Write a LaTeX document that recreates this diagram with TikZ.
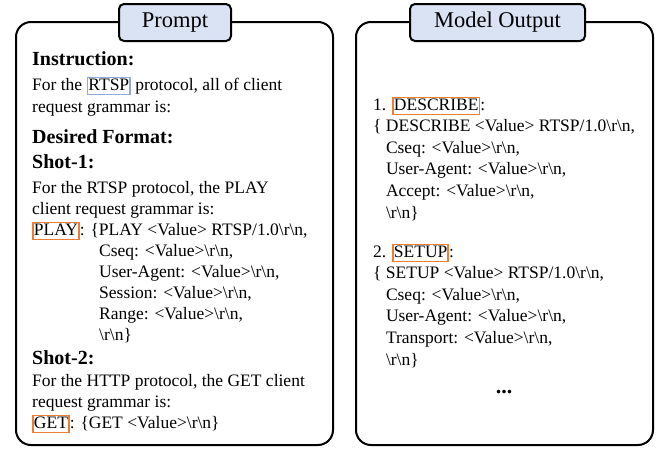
\documentclass[tikz,border=0pt]{standalone}
\usepackage{fontspec}
\setmainfont{Liberation Serif}
\usetikzlibrary{positioning}

\definecolor{titlefill}{HTML}{DAE3F3}
\definecolor{hlorange}{HTML}{ED7D31}
\definecolor{hlblue}{HTML}{8FAADC}

\newcommand{\rn}{\textbackslash r\textbackslash n}
\newcommand{\val}{<Value>}
\newcommand{\ind}{\hspace*{67pt}}
\newcommand{\indr}{\hspace*{12.8pt}}
\newcommand{\hlbox}[2]{\smash{\setlength{\fboxsep}{0pt}\setlength{\fboxrule}{1.8pt}\color{#1}\fbox{\rule[-3.5pt]{0pt}{15pt}\color{black}#2}}}

\begin{document}
\begin{tikzpicture}[x=1pt, y=-1pt,
    panel/.style={draw, line width=2pt, rounded corners=15pt},
    paneltitle/.style={draw, line width=2pt, rounded corners=5pt, fill=titlefill,
        minimum height=37pt, inner sep=0pt, font=\fontsize{22.5}{27}\selectfont},
    head/.style={anchor=base west, inner sep=0pt, font=\fontsize{20}{24}\selectfont\bfseries},
    body/.style={anchor=base west, inner sep=0pt, align=left, font=\fontsize{17.5}{21}\selectfont}]
    \useasboundingbox (0,0) rectangle (665,450);

    % Two panels with their titles
    \node[panel, minimum width=317pt, minimum height=423pt] (prompt) at (174.5,233.5) {};
    \node[panel, minimum width=297pt, minimum height=423pt] (output) at (504.5,233.5) {};
    \node[paneltitle, minimum width=112pt] (prompttitle) at (175,22.5) {Prompt};
    \node[paneltitle, minimum width=175pt] (outputtitle) at (497.5,22.5) {Model Output};

    % Prompt text (multi-line nodes sit on the baseline of their last line)
    \node[head] (instrhead) at (32,65) {Instruction:};
    \node[body] (instr) at (32,112)
        {For the \hlbox{hlblue}{RTSP} protocol, all of client\\[1pt] request grammar is:};
    \node[head] (formathead) at (32,143) {Desired Format:};
    \node[head] (shotonehead) at (32,168) {Shot-1:};
    \node[body] (shotone) at (32,340)
        {For the RTSP protocol, the PLAY\\ client request grammar is:\\
         \hlbox{hlorange}{PLAY}: \{PLAY \val{} RTSP/1.0\rn,\\
         \ind Cseq: \val\rn,\\ \ind User-Agent: \val\rn,\\ \ind Session: \val\rn,\\
         \ind Range: \val\rn,\\ \ind\rn\}};
    \node[head] (shottwohead) at (32,364) {Shot-2:};
    \node[body] (shottwo) at (32,428)
        {For the HTTP protocol, the GET client\\ request grammar is:\\
         \hlbox{hlorange}{GET}: \{GET \val\rn\}};

    % Model output text
    \node[body, font=\fontsize{17.5}{21.6}\selectfont] (describe) at (373,218)
        {1. \hlbox{hlorange}{DESCRIBE}:\\ \{ DESCRIBE \val{} RTSP/1.0\rn,\\
         \indr Cseq: \val\rn,\\ \indr User-Agent: \val\rn,\\ \indr Accept: \val\rn,\\ \indr\rn\}};
    \node[body, font=\fontsize{17.5}{21.6}\selectfont] (setup) at (373,365)
        {2. \hlbox{hlorange}{SETUP}:\\ \{ SETUP \val{} RTSP/1.0\rn,\\
         \indr Cseq: \val\rn,\\ \indr User-Agent: \val\rn,\\ \indr Transport: \val\rn,\\ \indr\rn\}};
    \node[anchor=base, inner sep=0pt, font=\fontsize{22}{26}\selectfont\bfseries] (dots) at (504,393) {...};
\end{tikzpicture}
\end{document}
